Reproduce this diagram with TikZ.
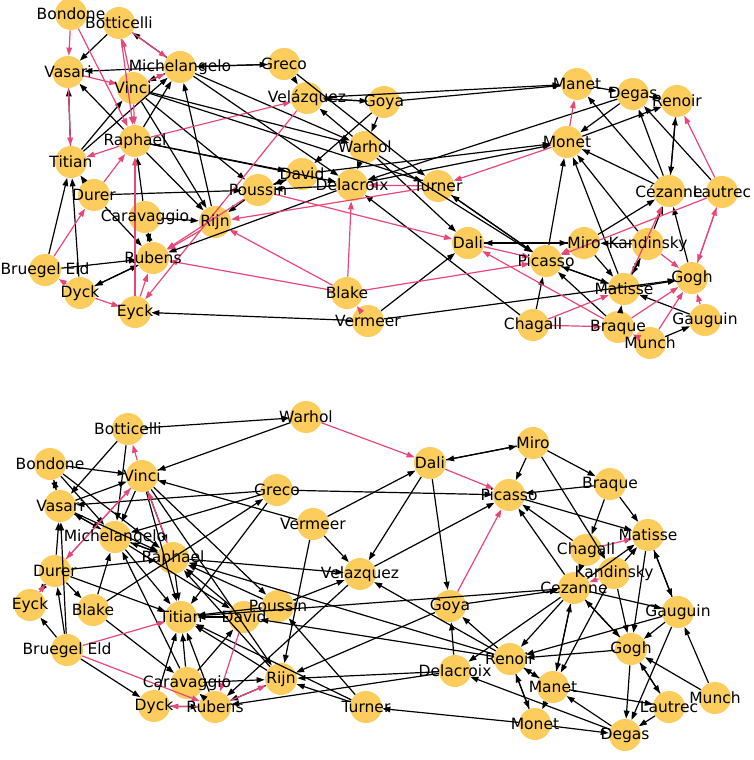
\documentclass[tikz,border=0pt]{standalone}
\usepackage{fontspec}
\setmainfont{DejaVu Sans}
\usetikzlibrary{arrows.meta}
\definecolor{nodecol}{RGB}{252,204,92}
\definecolor{redcol}{RGB}{232,70,118}
\begin{document}
\begin{tikzpicture}[x=0.5pt,y=-0.5pt,
  pt/.style={circle,fill=nodecol,minimum size=16pt,inner sep=0pt},
  lbl/.style={inner sep=0pt,font=\fontsize{7.75}{9}\selectfont,text=black},
  edgeb/.style={draw=black,line width=0.6pt,-{Triangle[length=4pt,width=2.8pt]}},
  edger/.style={draw=redcol,line width=0.6pt,-{Triangle[length=4pt,width=2.8pt]}}]
\useasboundingbox (0,0) rectangle (754,760);
% ---------- nodes: top graph ----------
\foreach \n/\x/\y in {Bondone/71/14, Botticelli/119/23, Vasari/68/72, Michelangelo/180/67,
  Greco/284/64, Velazquez/307/98, Goya/384/102, Vinci/133/88, Raphael/135/141, Titian/71/162,
  Warhol/365/147, David/302/174, Poussin/258/190, Delacroix/352/185, Turner/438/186,
  Dali/468/243, Durer/94/195, Caravaggio/145/217, Rijn/215/222, Rubens/153/258,
  Bruegel/45/270, Dyck/80/293, Eyck/135/312, Blake/347/293, Vermeer/368/321,
  Manet/577/84, Degas/633/94, Renoir/677/101, Monet/567/142, Cezanne/669/191,
  Lautrec/722/192, Miro/584/243, Kandinsky/648/244, Picasso/546/261, Gogh/692/278,
  Matisse/624/289, Chagall/533/325, Braque/618/327, Gauguin/705/320, Munch/650/343}
  {\node[pt] (t\n) at (\x,\y) {};}
% ---------- nodes: bottom graph ----------
\foreach \n/\x/\y in {Warhol/306/417, Botticelli/128/429, Bondone/50/464, Vinci/142/476,
  Greco/277/490, Vasari/60/506, Vermeer/313/524, Michelangelo/115/537, Raphael/173/558,
  Durer/55/571, Velazquez/360/574, Dali/430/463, Miro/533/443, Braque/610/484,
  Picasso/509/495, Matisse/648/535, Chagall/586/550, Kandinsky/614/573, Eyck/30/605,
  Blake/93/610, Titian/181/617, David/244/617, Poussin/278/606, Bruegel/67/650,
  Caravaggio/187/683, Rijn/281/679, Dyck/154/706, Rubens/215/707, Turner/366/707,
  Cezanne/574/588, Goya/450/606, Gauguin/678/612, Gogh/631/649, Renoir/510/659,
  Delacroix/455/671, Manet/553/687, Munch/715/698, Lautrec/669/707, Monet/535/724,
  Degas/625/735}
  {\node[pt] (b\n) at (\x,\y) {};}
% ---------- black edges ----------
\foreach \a/\b in {tMichelangelo/tBotticelli, tBotticelli/tVasari, tMichelangelo/tVasari,
  tTitian/tVasari, tRaphael/tVasari, tTitian/tVinci, tTitian/tMichelangelo, tRaphael/tMichelangelo,
  tMichelangelo/tVinci, tMichelangelo/tGreco, tGreco/tMichelangelo, tGreco/tVelazquez,
  tVelazquez/tGoya, tGoya/tVelazquez, tVinci/tWarhol, tVinci/tTurner, tMichelangelo/tWarhol,
  tMichelangelo/tDelacroix, tRijn/tMichelangelo, tVinci/tPoussin, tVinci/tRijn, tRaphael/tRijn,
  tRaphael/tDavid, tRaphael/tDelacroix, tWarhol/tVelazquez, tGoya/tWarhol, tGoya/tDavid,
  tVelazquez/tManet, tGoya/tManet, tGreco/tTurner, tWarhol/tDali, tWarhol/tPicasso,
  tWarhol/tDelacroix, tDavid/tPoussin, tPoussin/tDavid, tDelacroix/tPoussin, tPoussin/tRijn,
  tDelacroix/tRubens, tDurer/tTitian, tDurer/tPoussin, tDurer/tRubens, tCaravaggio/tRijn,
  tCaravaggio/tRubens, tRubens/tCaravaggio, tCaravaggio/tRaphael, tBruegel/tTitian, tDyck/tTitian,
  tBruegel/tRubens, tRubens/tDyck, tDyck/tRubens, tVermeer/tEyck, tVermeer/tDali, tVermeer/tGogh,
  tManet/tDegas, tDegas/tRenoir, tDegas/tMonet, tMonet/tRenoir, tDegas/tDelacroix,
  tDelacroix/tMonet, tDavid/tMonet, tPicasso/tMonet, tKandinsky/tMonet, tMatisse/tMonet,
  tCezanne/tMonet, tCezanne/tManet, tCezanne/tDegas, tCezanne/tRenoir, tRenoir/tCezanne,
  tLautrec/tDegas, tMiro/tCezanne, tMiro/tDali, tDali/tMiro, tKandinsky/tMiro, tMiro/tMatisse,
  tPicasso/tMatisse, tMatisse/tPicasso, tBraque/tPicasso, tChagall/tPicasso, tBraque/tMatisse,
  tMatisse/tKandinsky, tKandinsky/tMatisse, tKandinsky/tCezanne, tGogh/tCezanne, tMatisse/tGogh,
  tGauguin/tMatisse, tMunch/tGauguin, tTurner/tPicasso, tPicasso/tTurner, tChagall/tDelacroix,
  bBotticelli/bWarhol, bWarhol/bVinci, bBotticelli/bMichelangelo, bBotticelli/bVasari,
  bBondone/bVinci, bBondone/bVasari, bVasari/bBondone, bBondone/bMichelangelo, bBondone/bRaphael,
  bVasari/bVinci, bGreco/bVasari, bGreco/bPicasso, bGreco/bMichelangelo, bGreco/bTitian,
  bVermeer/bVinci, bVinci/bRaphael, bVinci/bMichelangelo, bVasari/bMichelangelo,
  bMichelangelo/bVasari, bVasari/bRaphael, bMichelangelo/bRaphael, bRaphael/bMichelangelo,
  bDurer/bVasari, bBruegel/bVasari, bDurer/bRaphael, bRaphael/bVelazquez, bVinci/bTitian,
  bVinci/bRijn, bVinci/bPoussin, bVermeer/bVelazquez, bVermeer/bRijn, bVermeer/bDali,
  bDali/bVelazquez, bMiro/bDali, bDali/bMiro, bMiro/bPicasso, bMiro/bBraque, bMiro/bKandinsky,
  bBraque/bPicasso, bBraque/bMatisse, bBraque/bChagall, bPicasso/bMatisse, bChagall/bPicasso,
  bCezanne/bPicasso, bDali/bGoya, bVelazquez/bPicasso, bKandinsky/bMatisse, bCezanne/bMatisse,
  bMatisse/bGauguin, bGauguin/bMatisse, bMatisse/bGogh, bCezanne/bRenoir, bCezanne/bGauguin,
  bGogh/bCezanne, bCezanne/bGogh, bKandinsky/bGogh, bGauguin/bGogh, bGogh/bRenoir,
  bGauguin/bRenoir, bCezanne/bManet, bManet/bCezanne, bKandinsky/bManet, bCezanne/bDelacroix,
  bChagall/bCezanne, bRenoir/bGoya, bDelacroix/bGoya, bGoya/bRijn, bGoya/bCezanne,
  bCezanne/bTitian, bRenoir/bVelazquez, bRenoir/bManet, bManet/bRenoir, bRenoir/bMonet,
  bMonet/bRenoir, bManet/bMonet, bManet/bLautrec, bDegas/bManet, bDegas/bDelacroix,
  bMonet/bDegas, bMonet/bTurner, bLautrec/bDegas, bGogh/bDegas, bGogh/bLautrec, bLautrec/bGogh,
  bMunch/bGogh, bMunch/bGauguin, bGauguin/bDegas, bRaphael/bTitian, bMichelangelo/bTitian,
  bPoussin/bRaphael, bDavid/bRaphael, bRijn/bRaphael, bPoussin/bTitian, bDavid/bTitian,
  bRijn/bTitian, bTurner/bTitian, bCaravaggio/bTitian, bRubens/bTitian, bDyck/bTitian,
  bVelazquez/bRubens, bPoussin/bVelazquez, bDelacroix/bRijn, bDelacroix/bRubens, bRenoir/bDavid,
  bTurner/bRijn, bTurner/bPoussin, bCaravaggio/bRijn, bRijn/bRubens, bCaravaggio/bDavid,
  bRubens/bCaravaggio, bDurer/bEyck, bBruegel/bDurer, bBruegel/bEyck, bBruegel/bDyck,
  bDurer/bTitian, bDurer/bBlake, bBlake/bCaravaggio, bBlake/bMichelangelo, bBlake/bGreco,
  bDyck/bRubens, bCaravaggio/bMichelangelo, bMichelangelo/bDavid, bRenoir/bRaphael}
  {\draw[edgeb] (\a) -- (\b);}
% ---------- red edges ----------
\foreach \a/\b in {tBondone/tVasari, tBondone/tRaphael, tBotticelli/tMichelangelo,
  tVinci/tBotticelli, tBotticelli/tRaphael, tVasari/tVinci, tVasari/tTitian, tRaphael/tTitian,
  tRaphael/tVelazquez, tVinci/tRaphael, tVinci/tMichelangelo, tTurner/tDelacroix, tTurner/tRijn,
  tPoussin/tDali, tBlake/tDelacroix, tBlake/tRijn, tBlake/tRubens, tBlake/tPicasso,
  tVermeer/tBlake, tBruegel/tDurer, tDurer/tRaphael, tDyck/tBruegel, tDyck/tEyck,
  tEyck/tRaphael, tEyck/tRubens, tVelazquez/tEyck, tRijn/tRubens, tPoussin/tRubens,
  tMonet/tManet, tMonet/tTurner, tLautrec/tRenoir, tLautrec/tPicasso, tDali/tPicasso,
  tMiro/tPicasso, tBraque/tDali, tChagall/tMatisse, tChagall/tBraque, tBraque/tGogh,
  tMatisse/tCezanne, tKandinsky/tGogh, tLautrec/tGogh, tGogh/tLautrec, tGauguin/tGogh,
  tMunch/tGogh, tMunch/tBraque,
  bWarhol/bDali, bVinci/bBotticelli, bDurer/bVinci, bVinci/bDurer, bRaphael/bVinci,
  bDali/bPicasso, bGoya/bPicasso, bChagall/bMatisse, bKandinsky/bCezanne, bEyck/bDurer,
  bBruegel/bTitian, bBruegel/bRubens, bDavid/bRubens, bRubens/bRijn, bRubens/bDyck}
  {\draw[edger] (\a) -- (\b);}
% ---------- labels ----------
\foreach \n/\t in {Bondone/Bondone, Botticelli/Botticelli, Vasari/Vasari,
  Michelangelo/Michelangelo, Greco/Greco, Velazquez/Velázquez, Goya/Goya, Vinci/Vinci,
  Raphael/Raphael, Titian/Titian, Warhol/Warhol, David/David, Poussin/Poussin,
  Delacroix/Delacroix, Turner/Turner, Dali/Dali, Durer/Durer, Caravaggio/Caravaggio, Rijn/Rijn,
  Rubens/Rubens, Bruegel/Bruegel Eld, Dyck/Dyck, Eyck/Eyck, Blake/Blake, Vermeer/Vermeer,
  Manet/Manet, Degas/Degas, Renoir/Renoir, Monet/Monet, Cezanne/Cézanne, Lautrec/Lautrec,
  Miro/Miro, Kandinsky/Kandinsky, Picasso/Picasso, Gogh/Gogh, Matisse/Matisse,
  Chagall/Chagall, Braque/Braque, Gauguin/Gauguin, Munch/Munch}
  {\node[lbl] (t\n-l) at (t\n) {\t};}
\foreach \n/\t in {Bondone/Bondone, Botticelli/Botticelli, Vasari/Vasari,
  Michelangelo/Michelangelo, Greco/Greco, Velazquez/Velazquez, Goya/Goya, Vinci/Vinci,
  Raphael/Raphael, Titian/Titian, Warhol/Warhol, David/David, Poussin/Poussin,
  Delacroix/Delacroix, Turner/Turner, Dali/Dali, Durer/Durer, Caravaggio/Caravaggio, Rijn/Rijn,
  Rubens/Rubens, Bruegel/Bruegel Eld, Dyck/Dyck, Eyck/Eyck, Blake/Blake, Vermeer/Vermeer,
  Manet/Manet, Degas/Degas, Renoir/Renoir, Monet/Monet, Cezanne/Cezanne, Lautrec/Lautrec,
  Miro/Miro, Kandinsky/Kandinsky, Picasso/Picasso, Gogh/Gogh, Matisse/Matisse,
  Chagall/Chagall, Braque/Braque, Gauguin/Gauguin, Munch/Munch}
  {\node[lbl] (b\n-l) at (b\n) {\t};}
\end{tikzpicture}
\end{document}
